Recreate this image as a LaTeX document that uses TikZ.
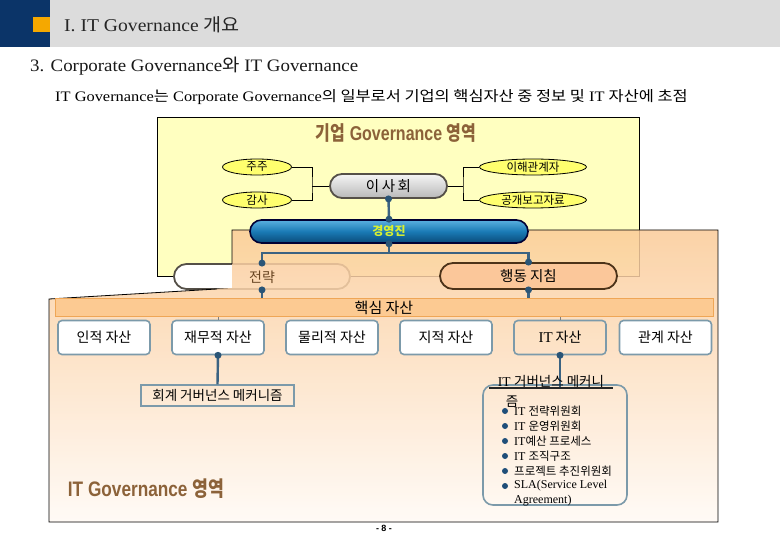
\documentclass[tikz,border=0pt]{standalone}
\usepackage{fontspec}
\setmainfont{Liberation Serif}
\newfontfamily\kr{Noto Sans CJK KR}
\newfontfamily\hd{Liberation Sans}
\usetikzlibrary{shapes.geometric,shapes.misc}
\newcommand\fsz[1]{\fontsize{#1}{#1}\selectfont}
\definecolor{navy}{HTML}{0B3468}
\definecolor{hdgray}{HTML}{DCDCDC}
\definecolor{hdorange}{HTML}{F5A800}
\definecolor{ylw}{HTML}{FFFFC0}
\definecolor{ellfill}{HTML}{FFFF6E}
\definecolor{titlebrown}{HTML}{8C6239}
\definecolor{conn}{HTML}{3B6382}
\definecolor{dotc}{HTML}{2A5577}
\definecolor{boxline}{HTML}{7C9AAA}
\definecolor{orTop}{HTML}{FBCB98}
\definecolor{orBot}{HTML}{FFFAF5}
\definecolor{barfill}{HTML}{FCCA92}
\definecolor{barline}{HTML}{EFA656}
\definecolor{peach}{HTML}{FBC79A}
\definecolor{pillline}{HTML}{555048}
\definecolor{kyg}{HTML}{D8F030}
\definecolor{blueTop}{HTML}{5AB0E0}
\definecolor{blueMid}{HTML}{1A7AB5}
\definecolor{blueBot}{HTML}{0A4A78}
\definecolor{bulc}{HTML}{1F4E79}
\tikzset{
  pill/.style={rounded rectangle, draw=pillline, line width=1.8pt, inner sep=0pt},
  ell/.style={ellipse, draw=black, line width=0.8pt, fill=ellfill, inner sep=0pt, minimum height=16pt, font=\kr\fsz{11.5}},
  thinc/.style={draw=black, line width=0.9pt},
  connl/.style={draw=conn, line width=2.4pt},
  dotn/.style={circle, fill=dotc, inner sep=0pt, minimum size=7pt},
  assetbox/.style={draw=boxline, line width=1.6pt, rounded corners=4pt, fill=white, minimum width=92pt, minimum height=34pt, inner sep=0pt, font=\kr\fsz{14}},
  bul/.style={circle, fill=bulc, inner sep=0pt, minimum size=6pt},
  itemtx/.style={anchor=west, inner sep=0pt, font=\fsz{12}},
}
\begin{document}
\begin{tikzpicture}[x=1pt,y=-1pt]
\useasboundingbox (0,0) rectangle (780,540);
\fill[white] (0,0) rectangle (780,540);
% header
\fill[hdgray] (50,0) rectangle (780,47);
\fill[navy] (0,0) rectangle (50,47);
\fill[hdorange] (33,17) rectangle (50,32);
\node[anchor=west, inner sep=0pt, text=black!85] (title) at (64,25) {\scalebox{1.09}[1]{\fsz{18}I. IT Governance {\kr 개요}}};
\node[anchor=west, inner sep=0pt, text=black!90] (subtitle) at (30,66) {\scalebox{1.08}[1]{\fsz{17.5}3. Corporate Governance{\kr 와} IT Governance}};
\node[anchor=west, inner sep=0pt, text=black] (lead) at (55,97) {\scalebox{1.13}[1]{\fsz{14.5}IT Governance{\kr 는} Corporate Governance{\kr 의 일부로서 기업의 핵심자산 중 정보 및} IT {\kr 자산에 초점}}};

% corporate governance region
\draw[fill=ylw, line width=0.8pt] (157,117) rectangle (639,276);
\node[pill, fill=white, minimum width=176pt, minimum height=25pt] (strat) at (262,276.5) {};

% IT governance region (translucent)
\path[top color=orTop, bottom color=orBot, fill opacity=0.85]
  (232,230) -- (718,230) -- (718,522) -- (49,522) -- (49,299) -- (232,288) -- cycle;
\draw[line width=0.8pt] (232,264) -- (232,230) -- (718,230) -- (718,522) -- (49,522) -- (49,299) -- (217,289);
\node[inner sep=0pt, font=\kr\fsz{14}, text=black!45!brown] (stratT) at (262,277) {전략};

% titles
\node[inner sep=0pt, text=titlebrown] (corpT) at (396,133)
  {\scalebox{0.8}[1]{\hd\bfseries\fsz{20}{\kr\bfseries 기업} Governance {\kr\bfseries 영역}}};
\node[inner sep=0pt, text=titlebrown] (itT) at (146,489)
  {\scalebox{0.82}[1]{\hd\bfseries\fsz{21}IT Governance {\kr\bfseries 영역}}};

% board and stakeholders
\node[pill, minimum width=117pt, minimum height=24pt, top color=gray!8, bottom color=gray!55, font=\kr\fsz{14.5}] (board) at (388.5,186) {이\hspace{2.5pt}사\hspace{2.5pt}회};
\node[ell, minimum width=69pt] (sh) at (257,167) {주주};
\node[ell, minimum width=69pt] (au) at (257,200) {감사};
\node[ell, minimum width=107pt] (stk) at (533,167) {이해관계자};
\node[ell, minimum width=107pt] (pub) at (533,200) {공개보고자료};
\coordinate (jl) at (312,186);
\coordinate (jr) at (463,186);
\draw[thinc] (sh.east) -| (jl) |- (au.east);
\draw[thinc] (jl) -- (board.west);
\draw[thinc] (stk.west) -| (jr) |- (pub.west);
\draw[thinc] (jr) -- (board.east);

% management
\node[pill, draw=black!80!blue, line width=1.6pt, minimum width=278pt, minimum height=23pt, top color=blueTop, bottom color=blueBot, middle color=blueMid, font=\kr\bfseries\fsz{12}, text=kyg] (mgmt) at (389,231.5) {경영진};
\draw[connl] (board.south) -- (mgmt.north);
\node[dotn] (d1) at (board.south) {};
\node[dotn] (d2) at (mgmt.north) {};

% action guide
\node[pill, fill=peach, draw=black!60!brown, minimum width=177pt, minimum height=26pt, font=\kr\fsz{14.5}] (act) at (528.5,276) {행동 지침};

\coordinate (j1) at (389,253);
\draw[connl] (mgmt.south) -- (j1);
\draw[connl] (strat.north) |- (j1) -| (act.north);
\node[dotn] (d3) at (mgmt.south) {};
\node[dotn] (d4) at (strat.north) {};
\node[dotn] (d5) at (act.north) {};

% core assets bar
\node[draw=barline, fill=barfill, line width=1pt, minimum width=658pt, minimum height=18pt, inner sep=0pt, font=\kr\fsz{15}] (core) at (384,308) {핵심 자산};
\draw[connl] (strat.south) -- (strat.south |- core.north);
\draw[connl] (act.south) -- (act.south |- core.north);
\node[dotn] (d6) at (strat.south) {};
\node[dotn] (d7) at (act.south) {};

% asset boxes
\node[assetbox] (hum) at (104,337.5) {인적 자산};
\node[assetbox] (fin) at (218,337.5) {재무적 자산};
\node[assetbox] (phy) at (332,337.5) {물리적 자산};
\node[assetbox] (kno) at (446,337.5) {지적 자산};
\node[assetbox, fill=none, font=\fsz{15}] (ita) at (560,337.5) {\raisebox{-2pt}{IT\hspace{3pt}{\kr\fsz{14}자산}}};
\node[assetbox] (rel) at (665.5,337.5) {관계 자산};
\draw[draw=black!50, line width=0.8pt] (fin.north |- core.south) -- (fin.north);
\draw[draw=black!50, line width=0.8pt] (ita.north |- core.south) -- (ita.north);

% accounting governance mechanism
\node[draw=boxline, line width=1.3pt, minimum width=153pt, minimum height=21pt, inner sep=0pt, font=\kr\fsz{13.5}] (acct) at (217.5,395.5) {회계 거버넌스 메커니즘};
\draw[connl] (fin.south) -- (acct.north);
\node[dotn] (d8) at (fin.south) {};

% IT governance mechanism
\node[draw=boxline, line width=1.6pt, rounded corners=10pt, minimum width=144pt, minimum height=120pt, inner sep=0pt] (itbox) at (555,445) {};
\coordinate (itjoin) at (560,388);
\draw[connl] (ita.south) -- (itjoin);
\node[dotn] (d9) at (ita.south) {};
\node[inner sep=0pt, font=\fsz{13.5}] (ithead) at (551,381) {IT {\kr 거버넌스 메커니}};
\draw[line width=1.3pt, black!85] (489,388) -- (613,388);
\node[inner sep=0pt, font=\kr\fsz{13.5}] (ithead2) at (512,402) {즘};

\node[bul] (b1) at (505,411) {};
\node[itemtx] (t1) at (514,411) {IT {\kr\fsz{11.5}전략위원회}};
\node[bul] (b2) at (505,426) {};
\node[itemtx] (t2) at (514,426) {IT {\kr\fsz{11.5}운영위원회}};
\node[bul] (b3) at (505,441) {};
\node[itemtx] (t3) at (514,441) {IT{\kr\fsz{11.5}예산 프로세스}};
\node[bul] (b4) at (505,456) {};
\node[itemtx] (t4) at (514,456) {IT {\kr\fsz{11.5}조직구조}};
\node[bul] (b5) at (505,471) {};
\node[itemtx] (t5) at (514,471) {{\kr\fsz{11.5}프로젝트 추진위원회}};
\node[bul] (b6) at (505,486) {};
\node[itemtx] (t6) at (514,486) {SLA(Service Level};
\node[itemtx] (t7) at (514,501) {Agreement)};

% page number
\node[inner sep=0pt, font=\hd\bfseries\fsz{9}] (pg) at (384,528) {- 8 -};
\end{tikzpicture}
\end{document}
